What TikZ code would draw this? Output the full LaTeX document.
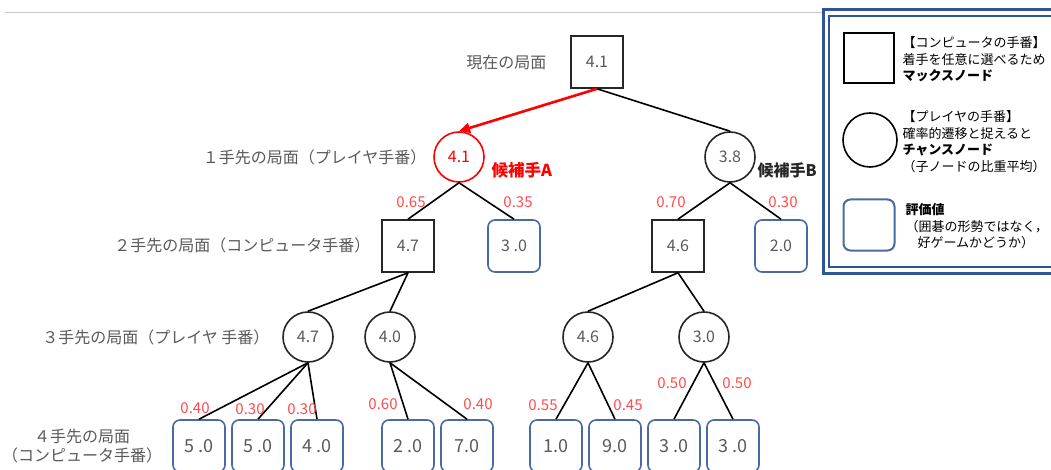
\documentclass[tikz,border=0pt]{standalone}
\usepackage{fontspec}
\setmainfont{Noto Sans CJK JP}
\usepackage{xcolor}
\usetikzlibrary{arrows.meta}
\definecolor{probred}{HTML}{FF4B4B}
\definecolor{evalblue}{HTML}{4A6AA5}
\definecolor{frameblue}{HTML}{2F5597}
\definecolor{labgray}{HTML}{595959}

\begin{document}
\begin{tikzpicture}[x=1pt,y=-1pt,
  every node/.style={font=\fontsize{16}{18}\selectfont, text=labgray},
  maxnode/.style={draw=black!85, line width=1.6pt, minimum size=52pt, inner sep=0pt},
  chancenode/.style={draw=black!85, circle, line width=1.6pt, minimum size=50pt, inner sep=0pt},
  evalnode/.style={draw=evalblue, rounded corners=7pt, line width=1.6pt, minimum size=52pt, inner sep=0pt},
  leaf/.style={evalnode, font=\fontsize{18}{20}\selectfont},
  prob/.style={text=probred, font=\fontsize{15}{17}\selectfont},
  lvl/.style={anchor=east},
  legtext/.style={anchor=north west, align=left, text=black, font=\fontsize{13}{16.5}\selectfont},
  edge/.style={line width=1.6pt}]
  \useasboundingbox (0,0) rectangle (1051,470);

  % top rule
  \draw[gray!45, line width=0.8pt] (5,12) -- (823,12);

  % level labels
  \node[lvl] (l0) at (550,62) {現在の局面};
  \node[lvl] (l1) at (430,157) {１手先の局面（プレイヤ手番）};
  \node[lvl] (l2) at (374,245) {２手先の局面（コンピュータ手番）};
  \node[lvl] (l3) at (273,337) {３手先の局面（プレイヤ 手番）};
  \node[align=center, font=\fontsize{16}{19.5}\selectfont] (l4) at (82,446) {４手先の局面\\（コンピュータ手番）};

  % tree
  \node[maxnode] (root) at (597,62) {4.1};
  \node[chancenode, draw=red, text=red] (pA) at (459,157) {4.1};
  \node[chancenode] (pB) at (730,157) {3.8};
  \node[anchor=west, text=red, font=\fontsize{16.5}{19}\selectfont\bfseries] (candA) at (488,170) {候補手A};
  \node[anchor=west, text=black!85, font=\fontsize{16}{19}\selectfont\bfseries] (candB) at (754,170) {候補手B};

  \node[maxnode] (mA) at (408,246) {4.7};
  \node[evalnode] (eA) at (514,246) {3 .0};
  \node[maxnode] (mB) at (678,246) {4.6};
  \node[evalnode] (eB) at (781,246) {2.0};

  \node[chancenode] (cA1) at (308,337) {4.7};
  \node[chancenode] (cA2) at (390,337) {4.0};
  \node[chancenode] (cB1) at (588,337) {4.6};
  \node[chancenode] (cB2) at (704,337) {3.0};

  \node[leaf] (v1) at (199,446) {5 .0};
  \node[leaf] (v2) at (258,446) {5 .0};
  \node[leaf] (v3) at (317,446) {4 .0};
  \node[leaf] (v4) at (408,446) {2 .0};
  \node[leaf] (v5) at (467,446) {7.0};
  \node[leaf] (v6) at (556,446) {1.0};
  \node[leaf] (v7) at (615,446) {9.0};
  \node[leaf] (v8) at (674,446) {3 .0};
  \node[leaf] (v9) at (733,446) {3 .0};

  % edges
  \draw[red, line width=2.6pt, -{Triangle[length=11pt,width=10pt]}] (root.south) -- (pA.north);
  \draw[edge] (root.south) -- (pB.north);
  \draw[edge] (pA.south) -- (mA.north);
  \draw[edge] (pA.south) -- (eA.north);
  \draw[edge] (pB.south) -- (mB.north);
  \draw[edge] (pB.south) -- (eB.north);
  \draw[edge] (mA.south) -- (cA1.north);
  \draw[edge] (mA.south) -- (cA2.north);
  \draw[edge] (mB.south) -- (cB1.north);
  \draw[edge] (mB.south) -- (cB2.north);
  \foreach \v in {v1,v2,v3} \draw[edge] (cA1.south) -- (\v.north);
  \foreach \v in {v4,v5} \draw[edge] (cA2.south) -- (\v.north);
  \foreach \v in {v6,v7} \draw[edge] (cB1.south) -- (\v.north);
  \foreach \v in {v8,v9} \draw[edge] (cB2.south) -- (\v.north);

  % probabilities
  \node[prob] (q1) at (411,202) {0.65};
  \node[prob] (q2) at (518,202) {0.35};
  \node[prob] (q3) at (671,202) {0.70};
  \node[prob] (q4) at (783,202) {0.30};
  \node[prob] (q5) at (195,408) {0.40};
  \node[prob] (q6) at (250,409) {0.30};
  \node[prob] (q7) at (302,409) {0.30};
  \node[prob] (q8) at (383,404) {0.60};
  \node[prob] (q9) at (478,404) {0.40};
  \node[prob] (q10) at (543,405) {0.55};
  \node[prob] (q11) at (628,405) {0.45};
  \node[prob] (q12) at (672,383) {0.50};
  \node[prob] (q13) at (737,383) {0.50};

  % legend
  \draw[frameblue, line width=3pt] (823,10) rectangle (1062,273);
  \draw[frameblue, line width=2pt] (829,16) rectangle (1062,267);
  \node[maxnode, minimum size=50pt, line width=2.4pt, draw=black] (kmax) at (869,58) {};
  \node[chancenode, minimum size=54pt, draw=black] (kchance) at (870,140) {};
  \node[evalnode, minimum size=51pt, line width=2pt] (keval) at (869,225) {};
  \node[legtext] (tmax) at (899,33) {【コンピュータの手番】\\着手を任意に選べるため\\\textbf{マックスノード}};
  \node[legtext] (tchance) at (899,107) {【プレイヤの手番】\\確率的遷移と捉えると\\\textbf{チャンスノード}\\（子ノードの比重平均）};
  \node[legtext] (teval) at (902,200) {\textbf{評価値}\\（囲碁の形勢ではなく，\\\hspace*{12pt}好ゲームかどうか）};
\end{tikzpicture}
\end{document}
